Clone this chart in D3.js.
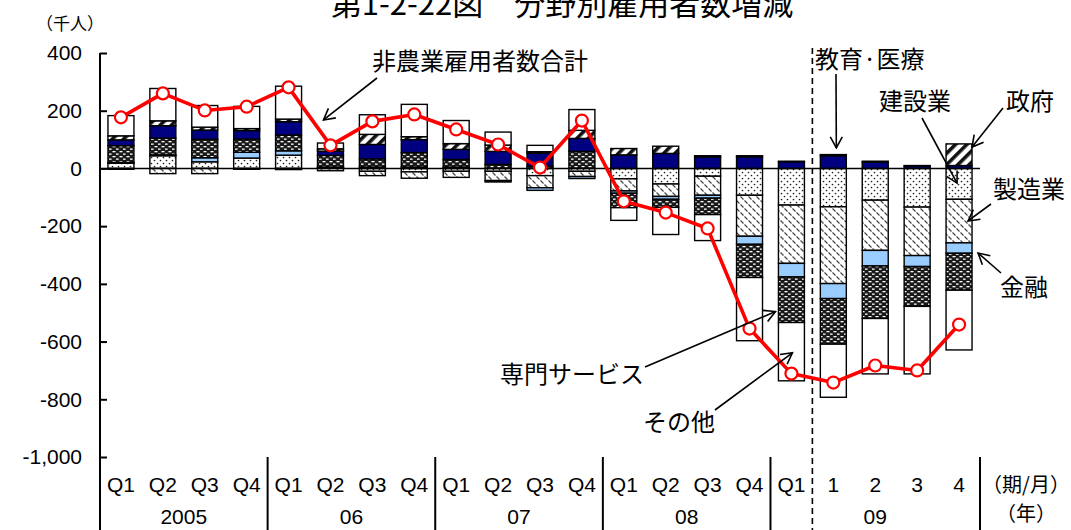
<!DOCTYPE html>
<html>
<head>
<meta charset="utf-8">
<script src="https://cdn.jsdelivr.net/npm/d3@7"></script>
<style>
  body { margin: 0; background: #fff; }
  text { font-family: "Liberation Sans", Arial, "Noto Sans CJK JP", sans-serif; fill: #000; }
  .jp { font-family: "Noto Sans CJK JP", sans-serif; }
</style>
</head>
<body>
<div id="chart"></div>
<script>
// period labels (quarters, then months of 2009)
const periods = ["Q1", "Q2", "Q3", "Q4", "Q1", "Q2", "Q3", "Q4", "Q1", "Q2", "Q3", "Q4",
                 "Q1", "Q2", "Q3", "Q4", "Q1", "1", "2", "3", "4"];
const yearLabels = ["2005", "06", "07", "08", "09"];
const yearStarts = [0, 4, 8, 12, 16];
const yTicks = [400, 200, 0, -200, -400, -600, -800, -1000];

// change in employees by sector (thousand persons)
const construction  = [18, 44, 23, 36, 46, 3, -10, -12, -10, -10, -25, -10, -36, -54, -27, -93, -127, -133, -110, -134, -107];
const manufacturing = [-3, -18, -18, -3, -4, -8, -15, -22, -21, -32, -42, -18, -42, -43, -66, -142, -202, -266, -174, -168, -151];
const finance       = [3, 3, 14, 20, 15, 2, 5, 5, 5, -5, -9, -7, -8, -10, -10, -28, -47, -52, -54, -38, -36];
const professional  = [58, 58, 64, 46, 55, 40, 28, 50, 26, 14, 8, 59, -50, -28, -57, -115, -158, -158, -182, -138, -128];
const eduHealth     = [20, 43, 32, 29, 46, 15, 50, 45, 35, 45, 45, 45, 47, 52, 40, 40, 23, 44, 22, 8, 10];
const government    = [14, 17, 10, 7, 9, 8, 35, 10, 20, 22, 5, 28, 22, 25, 4, 4, 2, 4, 3, 2, 75];
const other         = [70, 112, 75, 77, 114, 20, 68, 112, 80, 45, 22, 72, -44, -94, -90, -219, -202, -184, -192, -234, -207];
// total nonfarm payrolls
const totalNonfarm  = [177, 260, 201, 214, 281, 80, 163, 187, 135, 83, 3, 166, -114, -153, -208, -555, -711, -742, -683, -700, -541];

const width = 1071, height = 530;
const plotLeft = 100, plotRight = 980, plotTop = 53, plotBottom = 457;

const svg = d3.select("#chart").append("svg")
    .attr("width", width)
    .attr("height", height);

// fill patterns
const defs = svg.append("defs");

let p = defs.append("pattern").attr("id", "pat-dots")
    .attr("width", 6).attr("height", 6).attr("patternUnits", "userSpaceOnUse");
p.append("rect").attr("width", 6).attr("height", 6).attr("fill", "#fff");
p.append("circle").attr("cx", 1.5).attr("cy", 1.5).attr("r", 0.85).attr("fill", "#222");
p.append("circle").attr("cx", 4.5).attr("cy", 4.5).attr("r", 0.85).attr("fill", "#222");

p = defs.append("pattern").attr("id", "pat-dash")
    .attr("width", 8).attr("height", 8).attr("patternUnits", "userSpaceOnUse");
p.append("rect").attr("width", 8).attr("height", 8).attr("fill", "#fff");
p.append("path").attr("d", "M0.5,0.5L3.5,3.5M4.5,4.5L7.5,7.5")
    .attr("stroke", "#444").attr("stroke-width", 1.2);

p = defs.append("pattern").attr("id", "pat-brick")
    .attr("width", 7).attr("height", 5).attr("patternUnits", "userSpaceOnUse");
p.append("rect").attr("width", 7).attr("height", 5).attr("fill", "#1a1a1a");
p.append("rect").attr("x", 0.5).attr("y", 1).attr("width", 3).attr("height", 1.3).attr("fill", "#fff");
p.append("rect").attr("x", 4).attr("y", 3.5).attr("width", 2.6).attr("height", 1.3).attr("fill", "#fff");

p = defs.append("pattern").attr("id", "pat-stripe")
    .attr("width", 8).attr("height", 8).attr("patternUnits", "userSpaceOnUse")
    .attr("patternTransform", "rotate(45)");
p.append("rect").attr("width", 8).attr("height", 8).attr("fill", "#fff");
p.append("rect").attr("width", 3.6).attr("height", 8).attr("fill", "#111");

const sectors = [
    { key: "construction", values: construction, fill: "url(#pat-dots)" },
    { key: "manufacturing", values: manufacturing, fill: "url(#pat-dash)" },
    { key: "finance", values: finance, fill: "#99ccff" },
    { key: "professional", values: professional, fill: "url(#pat-brick)" },
    { key: "eduHealth", values: eduHealth, fill: "#000080" },
    { key: "government", values: government, fill: "url(#pat-stripe)" },
    { key: "other", values: other, fill: "#fff" }
];

const table = periods.map((d, i) => {
    const row = { i: i };
    sectors.forEach(s => { row[s.key] = s.values[i]; });
    return row;
});

const x = d3.scaleBand()
    .domain(d3.range(periods.length))
    .range([plotLeft, plotRight])
    .paddingInner(0.38)
    .paddingOuter(0.19);

const y = d3.scaleLinear()
    .domain([-1000, 400])
    .range([plotBottom, plotTop]);

const stack = d3.stack()
    .keys(sectors.map(s => s.key))
    .offset(d3.stackOffsetDiverging);

const layers = stack(table);

svg.append("g").selectAll("g")
    .data(layers)
    .enter().append("g")
    .attr("fill", (d, i) => sectors[i].fill)
    .selectAll("rect")
    .data(d => d.filter(v => v[1] !== v[0]))
    .enter().append("rect")
    .attr("x", d => x(d.data.i))
    .attr("y", d => y(Math.max(d[0], d[1])))
    .attr("width", x.bandwidth())
    .attr("height", d => Math.abs(y(d[0]) - y(d[1])))
    .attr("stroke", "#000")
    .attr("stroke-width", 1.4);

// zero line
svg.append("line")
    .attr("x1", plotLeft).attr("x2", plotRight)
    .attr("y1", y(0)).attr("y2", y(0))
    .attr("stroke", "#000").attr("stroke-width", 1.6);

// y axis
const yAxis = svg.append("g")
    .attr("transform", `translate(${plotLeft},0)`)
    .call(d3.axisLeft(y)
        .tickValues(yTicks)
        .tickSize(-7)
        .tickPadding(18)
        .tickFormat(d => d3.format(",")(d).replace("\u2212", "-")));
yAxis.select(".domain").remove();
yAxis.selectAll(".tick line").attr("stroke", "#000").attr("stroke-width", 2);
yAxis.selectAll(".tick text").attr("font-size", 21).attr("font-family", "Liberation Sans, Arial, sans-serif");

svg.append("line")
    .attr("x1", plotLeft).attr("x2", plotLeft)
    .attr("y1", y(400)).attr("y2", height)
    .attr("stroke", "#000").attr("stroke-width", 2);

// category labels
svg.append("g").selectAll("text")
    .data(periods)
    .enter().append("text")
    .attr("x", (d, i) => x(i) + x.bandwidth() / 2)
    .attr("y", 492)
    .attr("text-anchor", "middle")
    .attr("font-size", 21)
    .text(d => d);

// year groups
const step = x.step();
const yearEdges = yearStarts.concat([periods.length]);
svg.append("g").selectAll("line")
    .data(yearEdges.slice(1))
    .enter().append("line")
    .attr("x1", d => plotLeft + d * step).attr("x2", d => plotLeft + d * step)
    .attr("y1", plotBottom).attr("y2", height)
    .attr("stroke", "#000").attr("stroke-width", 2);

svg.append("g").selectAll("text")
    .data(yearLabels)
    .enter().append("text")
    .attr("x", (d, i) => plotLeft + (yearEdges[i] + yearEdges[i + 1]) / 2 * step)
    .attr("y", 524)
    .attr("text-anchor", "middle")
    .attr("font-size", 21)
    .text(d => d);

// dashed line between quarterly and monthly data
svg.append("line")
    .attr("x1", plotLeft + 17 * step).attr("x2", plotLeft + 17 * step)
    .attr("y1", 48).attr("y2", height)
    .attr("stroke", "#000").attr("stroke-width", 1.6)
    .attr("stroke-dasharray", "6,4");

// total line
const cx = i => x(i) + x.bandwidth() / 2;
svg.append("path")
    .datum(totalNonfarm)
    .attr("fill", "none")
    .attr("stroke", "#ff0000")
    .attr("stroke-width", 3.6)
    .attr("stroke-linejoin", "round")
    .attr("d", d3.line().x((d, i) => cx(i)).y(d => y(d)));

svg.append("g").selectAll("circle")
    .data(totalNonfarm)
    .enter().append("circle")
    .attr("cx", (d, i) => cx(i))
    .attr("cy", d => y(d))
    .attr("r", 6)
    .attr("fill", "#fff")
    .attr("stroke", "#ff0000")
    .attr("stroke-width", 2.2);

// title and units
svg.append("text")
    .attr("class", "jp")
    .attr("x", 562).attr("y", 15)
    .attr("text-anchor", "middle")
    .attr("font-size", 31)
    .text("第1-2-22図　分野別雇用者数増減");

svg.append("text")
    .attr("class", "jp")
    .attr("x", 36).attr("y", 30)
    .attr("font-size", 17)
    .text("（千人）");

svg.append("text")
    .attr("class", "jp")
    .attr("x", 1026).attr("y", 492)
    .attr("text-anchor", "middle")
    .attr("font-size", 20)
    .text("（期/月）");

svg.append("text")
    .attr("class", "jp")
    .attr("x", 1026).attr("y", 521)
    .attr("text-anchor", "middle")
    .attr("font-size", 20)
    .text("（年）");

// annotations: label position, arrow start, arrow tip (bar index, x offset, value)
const notes = [
    { text: "非農業雇用者数合計", lx: 372, ly: 70, sx: 377, sy: 78, bar: 5, dx: -7, v: 168 },
    { text: "教育·医療", lx: 815, ly: 68, sx: 836, sy: 74, bar: 17, dx: 3, v: 71 },
    { text: "建設業", lx: 879, ly: 110, sx: 922, sy: 118, bar: 20, dx: -2, v: -51 },
    { text: "政府", lx: 1006, ly: 110, sx: 1003, sy: 108, bar: 20, dx: 13, v: 74 },
    { text: "製造業", lx: 993, ly: 198, sx: 991, sy: 204, bar: 20, dx: 9, v: -182 },
    { text: "金融", lx: 1000, ly: 296, sx: 1001, sy: 273, bar: 20, dx: 19, v: -293 },
    { text: "専門サービス", lx: 500, ly: 383, sx: 645, sy: 367, bar: 16, dx: -16, v: -496 },
    { text: "その他", lx: 643, ly: 431, sx: 715, sy: 410, bar: 16, dx: 1, v: -639 }
];

defs.append("marker")
    .attr("id", "arrow")
    .attr("markerUnits", "userSpaceOnUse")
    .attr("markerWidth", 16).attr("markerHeight", 16)
    .attr("refX", 12).attr("refY", 7)
    .attr("orient", "auto")
    .append("path")
    .attr("d", "M1,1L12,7L1,13")
    .attr("fill", "none")
    .attr("stroke", "#000")
    .attr("stroke-width", 1.6);

const ann = svg.append("g");
ann.selectAll("line")
    .data(notes)
    .enter().append("line")
    .attr("x1", d => d.sx).attr("y1", d => d.sy)
    .attr("x2", d => cx(d.bar) + d.dx).attr("y2", d => y(d.v))
    .attr("stroke", "#000").attr("stroke-width", 1.6)
    .attr("marker-end", "url(#arrow)");

ann.selectAll("text")
    .data(notes)
    .enter().append("text")
    .attr("class", "jp")
    .attr("x", d => d.lx).attr("y", d => d.ly)
    .attr("font-size", 24)
    .text(d => d.text);
</script>
</body>
</html>
